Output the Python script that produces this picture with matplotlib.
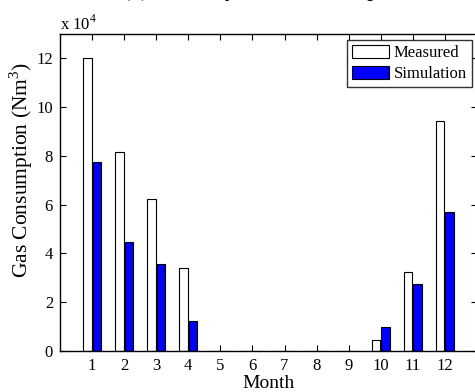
import matplotlib
matplotlib.use("Agg")
import matplotlib.pyplot as plt
import numpy as np

months = list(range(1, 13))
measured = [12.0, 8.15, 6.22, 3.4, 0, 0, 0, 0, 0, 0.47, 3.22, 9.42]
simulation = [7.75, 4.48, 3.58, 1.23, 0, 0, 0, 0, 0, 0.98, 2.74, 5.72]

plt.rcParams['font.family'] = ['Liberation Serif', 'DejaVu Serif']
plt.rcParams['mathtext.fontset'] = 'custom'
plt.rcParams['mathtext.rm'] = 'Liberation Serif'

fig = plt.figure(figsize=(4.75, 3.92), dpi=100)
ax = fig.add_axes([60/475, 1-351/392, 417/475, 317/392])

x = np.array(months)
w = 0.26
ax.bar(x - 0.145, measured, width=w, color='white', edgecolor='black', linewidth=0.8, label='Measured')
ax.bar(x + 0.145, simulation, width=w, color='#0000ff', edgecolor='black', linewidth=0.8, label='Simulation')

ax.set_xlim(0, 13)
ax.set_ylim(0, 13)
ax.set_xticks(months)
ax.set_xticklabels([str(m) for m in months])
ax.set_yticks([0, 2, 4, 6, 8, 10, 12])
ax.tick_params(direction='in', top=True, right=True, length=4, width=0.8, labelsize=12, pad=5)
for s in ax.spines.values():
    s.set_linewidth(1.0)

ax.set_xlabel('Month', fontsize=14, labelpad=1)
ax.set_ylabel('Gas Consumption (Nm$^3$)', fontsize=15.5)
ax.yaxis.set_label_coords(-0.06, (351 - 170) / 317)
ax.text(0, (351 - 30) / 317, r'x 10$^4$', transform=ax.transAxes, fontsize=12,
        ha='left', va='baseline')

fig.text(0.572, 1 + 4/392, '(c) Monthly Gas Consumption', fontsize=17.5, style='italic',
         ha='center', va='baseline')

leg = ax.legend(loc='upper right', bbox_to_anchor=((472-60)/417, 1 - 6/317),
                fontsize=12, frameon=True, fancybox=False, edgecolor='black',
                handlelength=2.2, handleheight=0.85, handletextpad=0.3, borderpad=0.3,
                labelspacing=0.25, borderaxespad=0)
leg.get_frame().set_linewidth(1.0)

fig.savefig('out.png', dpi=100)
